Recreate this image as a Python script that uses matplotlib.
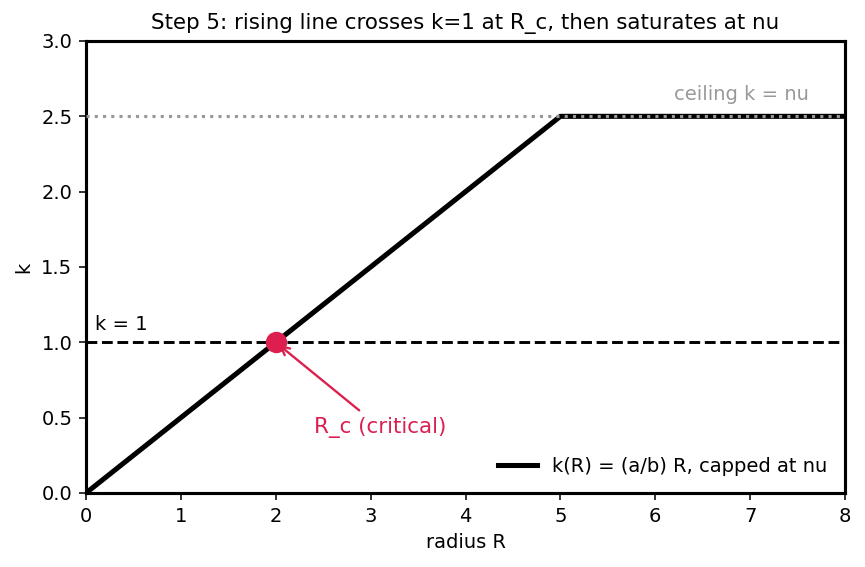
import numpy as np
import matplotlib
matplotlib.use("Agg")
import matplotlib.pyplot as plt

R = [0, 5, 8]
k = [0, 2.5, 2.5]
nu = 2.5
Rc = 2.0
kc = 1.0

DPI = 140
fig, ax = plt.subplots(figsize=(865/DPI, 567/DPI), dpi=DPI)
ax.plot(R, k, color='black', lw=2.6, label='k(R) = (a/b) R, capped at nu', zorder=3)
ax.axhline(1.0, color='black', ls='--', lw=1.5, zorder=2)
ax.axhline(nu, color='#999999', ls=':', lw=1.6, zorder=4)
ax.plot([Rc], [kc], 'o', color='#DC1F4E', ms=10, zorder=5)
ax.annotate('R_c (critical)', xy=(Rc, kc), xytext=(2.4, 0.4),
            color='#DC1F4E', fontsize=11,
            arrowprops=dict(arrowstyle='->', color='#DC1F4E', lw=1.2))
ax.text(0.1, 1.08, 'k = 1', fontsize=10, color='black')
ax.text(6.2, 2.61, 'ceiling k = nu', fontsize=10, color='#999999')
ax.set_xlim(0, 8)
ax.set_ylim(0, 3)
ax.set_xlabel('radius R')
ax.set_ylabel('k')
ax.set_title('Step 5: rising line crosses k=1 at R_c, then saturates at nu', fontsize=11)
for s in ax.spines.values():
    s.set_linewidth(1.6)
ax.legend(loc='lower right', frameon=False)
fig.subplots_adjust(left=86/865, right=845/865, top=1-41/567, bottom=1-493/567)
fig.savefig('out.png', dpi=DPI)
